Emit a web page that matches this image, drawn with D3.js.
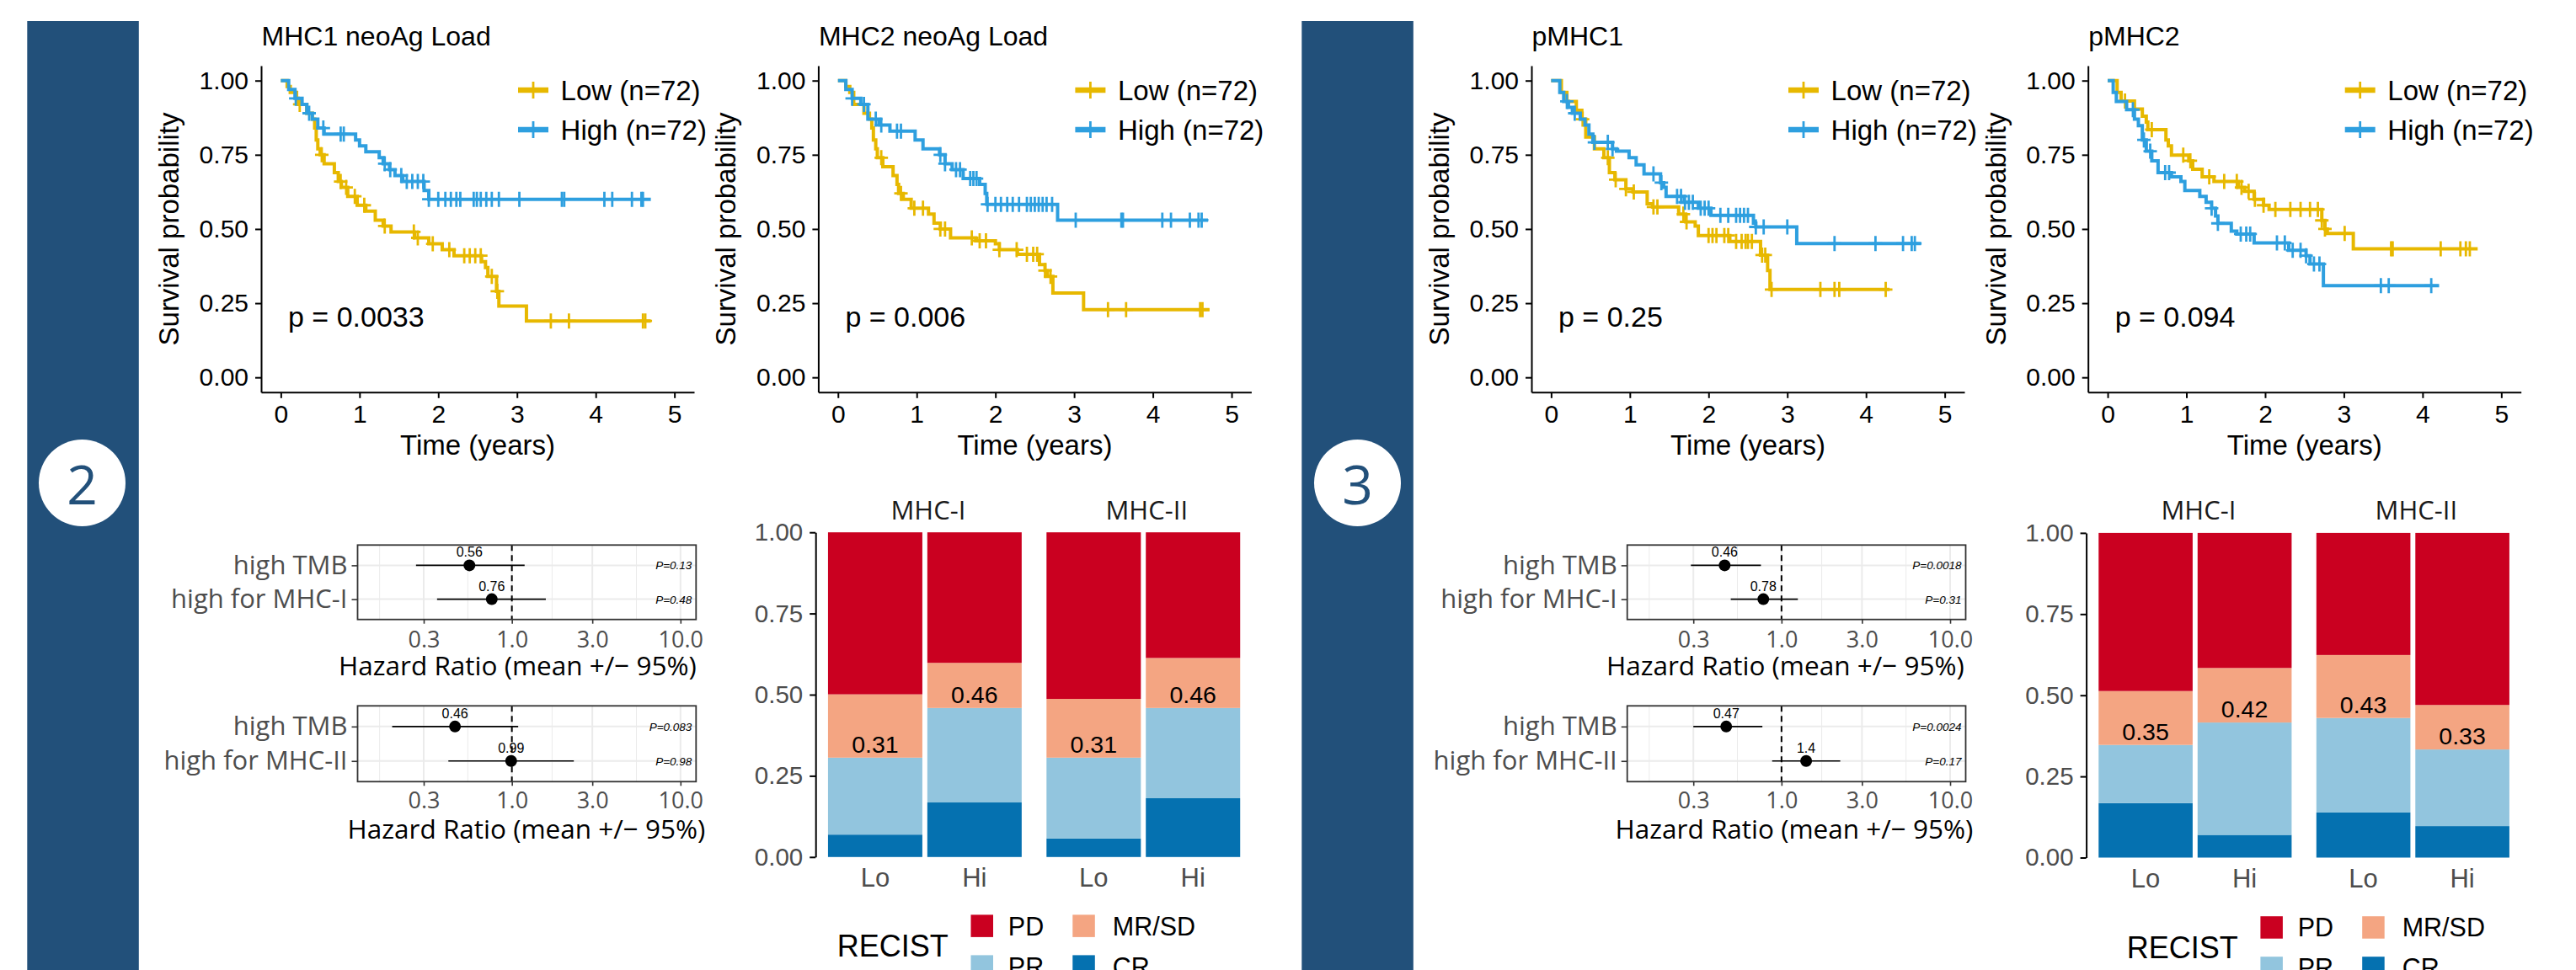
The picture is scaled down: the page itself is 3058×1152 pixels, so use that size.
<!DOCTYPE html>
<html><head><meta charset="utf-8">
<script src="https://cdn.jsdelivr.net/npm/d3@7"></script>
<style>body{margin:0;background:#fff} svg{display:block}</style>
</head><body><svg id="fig" width="3058" height="1152"></svg>
<script>
// ---------------- DATA ----------------
const survTicks = [0, 0.25, 0.5, 0.75, 1];
const timeTicks = [0, 1, 2, 3, 4, 5];
const kmTitles = ["MHC1 neoAg Load", "MHC2 neoAg Load", "pMHC1", "pMHC2"];
const kmPvalues = ["p = 0.0033", "p = 0.006", "p = 0.25", "p = 0.094"];
const kmGroups = ["Low (n=72)", "High (n=72)"];

// Kaplan-Meier steps [time, survival] (last entry = end of follow-up)
const km1Low = [[0,1],[0.08,0.98],[0.12,0.96],[0.2,0.94],[0.22,0.92],[0.33,0.89],[0.4,0.87],[0.43,0.84],[0.45,0.80],[0.47,0.77],[0.5,0.75],[0.55,0.72],[0.68,0.69],[0.73,0.66],[0.77,0.64],[0.85,0.61],[0.97,0.58],[1.08,0.56],[1.2,0.53],[1.3,0.51],[1.4,0.49],[1.7,0.47],[1.88,0.45],[2.05,0.43],[2.2,0.41],[2.55,0.39],[2.6,0.37],[2.63,0.34],[2.74,0.29],[2.77,0.24],[3.12,0.19],[4.7,0.19]];
const km1LowCens = [0.24,0.52,0.76,0.83,0.94,1.06,1.32,1.69,1.74,1.93,2.14,2.33,2.4,2.47,2.54,2.68,2.75,3.43,3.66,4.6,4.63];
const km1High = [[0,1],[0.1,0.97],[0.18,0.94],[0.27,0.92],[0.33,0.89],[0.4,0.87],[0.47,0.84],[0.55,0.82],[0.95,0.80],[1.0,0.78],[1.08,0.76],[1.25,0.74],[1.3,0.72],[1.38,0.70],[1.45,0.68],[1.55,0.66],[1.82,0.63],[1.88,0.60],[4.7,0.60]];
const km1HighCens = [0.19,0.36,0.54,0.76,0.8,1.32,1.39,1.53,1.6,1.67,1.74,1.81,1.88,2.0,2.09,2.16,2.23,2.28,2.45,2.49,2.54,2.61,2.68,2.77,3.03,3.57,3.6,4.11,4.21,4.46,4.58,4.6];

const km2Low = [[0,1],[0.1,0.98],[0.15,0.96],[0.2,0.92],[0.33,0.89],[0.4,0.87],[0.43,0.84],[0.45,0.80],[0.48,0.77],[0.5,0.74],[0.57,0.71],[0.7,0.68],[0.75,0.65],[0.77,0.62],[0.83,0.60],[0.93,0.57],[1.15,0.55],[1.22,0.52],[1.3,0.50],[1.43,0.47],[1.75,0.46],[2.0,0.45],[2.05,0.43],[2.28,0.415],[2.56,0.38],[2.63,0.36],[2.66,0.34],[2.73,0.284],[3.12,0.228],[4.72,0.228]];
const km2LowCens = [0.55,0.8,0.97,1.08,1.3,1.36,1.7,1.8,1.88,2.05,2.27,2.4,2.48,2.53,2.63,2.7,3.43,3.66,4.6,4.63];
const km2High = [[0,1],[0.1,0.97],[0.18,0.94],[0.29,0.92],[0.38,0.87],[0.52,0.85],[0.66,0.83],[0.98,0.80],[1.08,0.77],[1.29,0.75],[1.36,0.72],[1.45,0.70],[1.59,0.67],[1.8,0.65],[1.87,0.62],[1.89,0.583],[2.79,0.53],[4.7,0.53]];
const km2HighCens = [0.18,0.33,0.48,0.55,0.75,0.8,1.3,1.36,1.5,1.55,1.68,1.72,1.76,1.9,2.0,2.07,2.15,2.22,2.3,2.4,2.45,2.5,2.55,2.6,2.65,2.72,3.02,3.6,3.62,4.12,4.23,4.47,4.58,4.62];

const km3Low = [[0,1],[0.13,0.96],[0.2,0.93],[0.32,0.90],[0.39,0.87],[0.44,0.81],[0.55,0.77],[0.67,0.74],[0.74,0.69],[0.81,0.666],[0.95,0.635],[1.04,0.625],[1.22,0.585],[1.29,0.574],[1.62,0.55],[1.71,0.524],[1.83,0.51],[1.87,0.478],[2.27,0.458],[2.66,0.412],[2.75,0.36],[2.78,0.296],[4.3,0.296]];
const km3LowCens = [0.4,0.72,0.82,0.95,1.05,1.3,1.35,1.68,1.72,2.0,2.05,2.1,2.2,2.25,2.35,2.42,2.47,2.5,2.55,2.68,2.72,2.8,3.42,3.6,3.66,4.25];
const km3High = [[0,1],[0.11,0.96],[0.16,0.93],[0.22,0.91],[0.27,0.89],[0.37,0.87],[0.43,0.85],[0.48,0.82],[0.53,0.792],[0.78,0.77],[0.83,0.762],[0.99,0.74],[1.08,0.716],[1.18,0.686],[1.39,0.656],[1.43,0.64],[1.46,0.61],[1.69,0.59],[1.87,0.57],[2.03,0.546],[2.57,0.52],[2.6,0.507],[3.12,0.451],[4.7,0.451]];
const km3HighCens = [0.2,0.3,0.55,0.72,0.78,1.3,1.4,1.6,1.65,1.7,1.75,1.8,1.9,1.95,2.0,2.15,2.25,2.35,2.4,2.45,2.5,2.6,2.7,3.0,3.6,4.12,4.47,4.58,4.62];

const km4Low = [[0,1],[0.12,0.96],[0.17,0.931],[0.34,0.904],[0.44,0.88],[0.49,0.86],[0.51,0.835],[0.74,0.80],[0.77,0.78],[0.81,0.749],[1.03,0.73],[1.08,0.701],[1.2,0.676],[1.35,0.66],[1.66,0.64],[1.74,0.627],[1.86,0.60],[1.98,0.58],[2.05,0.566],[2.72,0.529],[2.76,0.50],[2.79,0.485],[3.12,0.433],[4.7,0.433]];
const km4LowCens = [0.22,0.56,0.96,1.05,1.29,1.48,1.64,1.7,1.79,1.87,1.98,2.13,2.32,2.45,2.57,2.67,2.72,2.76,3.01,3.6,3.62,4.23,4.48,4.55,4.6];
const km4High = [[0,1],[0.07,0.96],[0.11,0.93],[0.24,0.902],[0.34,0.87],[0.39,0.848],[0.44,0.80],[0.49,0.762],[0.56,0.73],[0.64,0.69],[0.81,0.676],[0.93,0.66],[0.98,0.63],[1.17,0.61],[1.25,0.59],[1.32,0.57],[1.37,0.544],[1.4,0.519],[1.57,0.493],[1.64,0.483],[1.86,0.453],[2.3,0.428],[2.52,0.41],[2.57,0.382],[2.74,0.309],[4.21,0.309]];
const km4HighCens = [0.32,0.46,0.54,0.73,0.78,1.32,1.4,1.69,1.76,1.81,2.15,2.25,2.35,2.45,2.52,2.62,2.69,3.47,3.57,4.11];

// Forest plots (hazard ratios)
const forestAxisTicks = [0.3, 1, 3, 10];
const forestLabelsI = ["high TMB", "high for MHC-I"];
const forestLabelsII = ["high TMB", "high for MHC-II"];
const forestNeoI_HR = [0.56, 0.76], forestNeoI_lo = [0.27, 0.36], forestNeoI_hi = [1.19, 1.59], forestNeoI_P = [0.13, 0.48];
const forestNeoII_HR = [0.46, 0.99], forestNeoII_lo = [0.195, 0.42], forestNeoII_hi = [1.09, 2.33], forestNeoII_P = [0.083, 0.98];
const forestPI_HR = [0.46, 0.78], forestPI_lo = [0.29, 0.50], forestPI_hi = [0.755, 1.25], forestPI_P = [0.0018, 0.31];
const forestPII_HR = [0.47, 1.4], forestPII_lo = [0.30, 0.88], forestPII_hi = [0.77, 2.23], forestPII_P = [0.0024, 0.17];

// RECIST stacked bars: order MHC-I Lo, MHC-I Hi, MHC-II Lo, MHC-II Hi
const barFacets = ["MHC-I", "MHC-II"];
const barGroups = ["Lo", "Hi"];
const recistCats = ["PD", "MR/SD", "PR", "CR"];
const barNeoCR = [0.069, 0.168, 0.057, 0.181];
const barNeoPR = [0.237, 0.291, 0.249, 0.278];
const barNeoMR = [0.195, 0.139, 0.181, 0.154];
const barNeoPD = [0.499, 0.402, 0.513, 0.387];
const barPepCR = [0.168, 0.070, 0.139, 0.097];
const barPepPR = [0.179, 0.346, 0.291, 0.236];
const barPepMR = [0.166, 0.168, 0.194, 0.137];
const barPepPD = [0.487, 0.416, 0.376, 0.530];

// ---------------- STYLE ----------------
const KMFONT = "'Liberation Sans', Arial, Helvetica, sans-serif";
const HUFONT = "'Open Sans', 'Noto Sans', sans-serif";
const kmColors = ["#E7B800", "#2E9FDF"];
const recistColors = {"PD": "#CA0020", "MR/SD": "#F4A582", "PR": "#92C5DE", "CR": "#0571B0"};
const bandColor = "#22507A";

const svg = d3.select("#fig");
svg.append("rect").attr("width", 3058).attr("height", 1152).attr("fill", "#fff");

// ---------------- SIDE BANDS ----------------
[[32.3, 97.5, "2"], [1545.3, 1611.5, "3"]].forEach(([bx, cx, lab]) => {
  svg.append("rect").attr("x", bx).attr("y", 25).attr("width", 132.5).attr("height", 1127).attr("fill", bandColor);
  svg.append("circle").attr("cx", cx).attr("cy", 573.5).attr("r", 51.5).attr("fill", "#fff");
  svg.append("text").attr("x", cx).attr("y", 574).attr("text-anchor", "middle").attr("dominant-baseline", "central")
    .attr("font-family", HUFONT).attr("font-size", 64).attr("font-weight", 500).attr("fill", bandColor).text(lab);
});

// ---------------- KM PANELS ----------------
function survAt(steps, t) {
  let s = steps[0][1];
  for (const p of steps) { if (p[0] <= t + 1e-9) s = p[1]; else break; }
  return s;
}
const kmData = [
  [km1Low, km1LowCens, km1High, km1HighCens],
  [km2Low, km2LowCens, km2High, km2HighCens],
  [km3Low, km3LowCens, km3High, km3HighCens],
  [km4Low, km4LowCens, km4High, km4HighCens]
];
const kmAxisX = [310, 971.4, 1818, 2478.7];

kmData.forEach((d, i) => {
  const X = kmAxisX[i];
  const x = d3.scaleLinear().domain([-0.25, 5.25]).range([X, X + 514]);
  const y = d3.scaleLinear().domain([-0.05, 1.05]).range([465.8, 78.1]);
  const g = svg.append("g");
  const line = d3.line().x(p => x(p[0])).y(p => y(p[1])).curve(d3.curveStepAfter);
  [[d[0], d[1], 0], [d[2], d[3], 1]].forEach(([steps, cens, k]) => {
    g.append("path").attr("d", line(steps)).attr("fill", "none").attr("stroke", kmColors[k]).attr("stroke-width", 4);
    g.append("g").selectAll("path").data(cens).join("path")
      .attr("d", c => { const cx = x(c), cy = y(survAt(steps, c)); return `M${cx},${cy - 9}V${cy + 9}M${cx - 8},${cy}H${cx + 8}`; })
      .attr("stroke", kmColors[k]).attr("stroke-width", 2.8).attr("fill", "none");
  });
  // axes
  const ay = g.append("g").attr("transform", `translate(${X},0)`)
    .call(d3.axisLeft(y).tickValues(survTicks).tickFormat(d3.format(".2f")).tickSize(7).tickSizeOuter(0).tickPadding(8));
  const ax = g.append("g").attr("transform", `translate(0,465.8)`)
    .call(d3.axisBottom(x).tickValues(timeTicks).tickFormat(d3.format("d")).tickSize(7).tickSizeOuter(0).tickPadding(8));
  [ay, ax].forEach(a => {
    a.attr("font-family", KMFONT).attr("font-size", 30);
    a.selectAll("path,line").attr("stroke", "#000").attr("stroke-width", 2);
    a.selectAll("text").attr("fill", "#000");
  });
  // titles
  g.append("text").attr("x", X + 0.5).attr("y", 53.6).attr("font-family", KMFONT).attr("font-size", 32).text(kmTitles[i]);
  g.append("text").attr("x", X + 257).attr("y", 540).attr("text-anchor", "middle").attr("font-family", KMFONT).attr("font-size", 33).text("Time (years)");
  g.append("text").attr("transform", `translate(${X - 98},272) rotate(-90)`).attr("text-anchor", "middle")
    .attr("font-family", KMFONT).attr("font-size", 33).text("Survival probability");
  g.append("text").attr("x", X + 32).attr("y", 388).attr("font-family", KMFONT).attr("font-size", 34).text(kmPvalues[i]);
  // legend
  kmGroups.forEach((lab, k) => {
    const ly = 107 + k * 47;
    g.append("line").attr("x1", X + 305).attr("x2", X + 341).attr("y1", ly).attr("y2", ly).attr("stroke", kmColors[k]).attr("stroke-width", 6.5);
    g.append("line").attr("x1", X + 323).attr("x2", X + 323).attr("y1", ly - 10).attr("y2", ly + 10).attr("stroke", kmColors[k]).attr("stroke-width", 2.8);
    g.append("text").attr("x", X + 355.6).attr("y", ly).attr("dominant-baseline", "central")
      .attr("font-family", KMFONT).attr("font-size", 33).text(lab);
  });
});

// ---------------- FOREST PLOTS ----------------
function drawForest(bx, by, bh, labels, hr, lo, hi, pv, titleCx, tickBase, titleBase) {
  const bw = 401.8;
  const x = d3.scaleLog().domain([0.1216, 12.37]).range([bx, bx + bw]);
  const y = d3.scalePoint().domain(labels).range([by, by + bh]).padding(0.6);
  const g = svg.append("g");
  const lx = d3.scaleLinear().domain([Math.log10(0.1216), Math.log10(12.37)]).range([bx, bx + bw]);
  // minor grid (log midpoints)
  const L = forestAxisTicks.map(Math.log10);
  const minors = [L[0] - (L[1] - L[0]) / 2].concat(L.slice(0, -1).map((v, j) => (v + L[j + 1]) / 2));
  g.selectAll(".mn").data(minors).join("line").attr("x1", v => lx(v)).attr("x2", v => lx(v))
    .attr("y1", by).attr("y2", by + bh).attr("stroke", "#EBEBEB").attr("stroke-width", 1);
  g.selectAll(".mj").data(forestAxisTicks).join("line").attr("x1", v => x(v)).attr("x2", v => x(v))
    .attr("y1", by).attr("y2", by + bh).attr("stroke", "#EBEBEB").attr("stroke-width", 2);
  g.selectAll(".hz").data(labels).join("line").attr("x1", bx).attr("x2", bx + bw)
    .attr("y1", l => y(l)).attr("y2", l => y(l)).attr("stroke", "#EBEBEB").attr("stroke-width", 2);
  // reference line
  g.append("line").attr("x1", x(1)).attr("x2", x(1)).attr("y1", by).attr("y2", by + bh)
    .attr("stroke", "#000").attr("stroke-width", 2).attr("stroke-dasharray", "7,5");
  // CIs and points
  labels.forEach((l, j) => {
    g.append("line").attr("x1", x(lo[j])).attr("x2", x(hi[j])).attr("y1", y(l)).attr("y2", y(l)).attr("stroke", "#000").attr("stroke-width", 1.6);
    g.append("circle").attr("cx", x(hr[j])).attr("cy", y(l)).attr("r", 7).attr("fill", "#000");
    g.append("text").attr("x", x(hr[j])).attr("y", y(l) - 10).attr("text-anchor", "middle")
      .attr("font-family", KMFONT).attr("font-size", 16).text(d3.format(".2")(hr[j]));
    g.append("text").attr("x", bx + bw - 5).attr("y", y(l) + 5).attr("text-anchor", "end")
      .attr("font-family", KMFONT).attr("font-size", 13.5).attr("font-style", "italic").text("P=" + pv[j]);
  });
  // box
  g.append("rect").attr("x", bx).attr("y", by).attr("width", bw).attr("height", bh)
    .attr("fill", "none").attr("stroke", "#333").attr("stroke-width", 1.8);
  // axes
  const ay = g.append("g").attr("transform", `translate(${bx},0)`).call(d3.axisLeft(y).tickSize(7).tickPadding(5).tickSizeOuter(0));
  ay.select(".domain").remove();
  ay.attr("font-family", HUFONT).attr("font-size", 31);
  ay.selectAll("line").attr("stroke", "#333").attr("stroke-width", 1.6);
  ay.selectAll("text").attr("fill", "#4D4D4D");
  const ax = g.append("g").attr("transform", `translate(0,${by + bh})`)
    .call(d3.axisBottom(x).tickValues(forestAxisTicks).tickFormat(d3.format(".1f")).tickSize(5).tickSizeOuter(0).tickPadding(5));
  ax.select(".domain").remove();
  ax.attr("font-family", HUFONT).attr("font-size", 27);
  ax.selectAll("line").attr("stroke", "#333").attr("stroke-width", 1.6);
  ax.selectAll("text").attr("fill", "#4D4D4D").attr("dy", null).attr("y", tickBase - by - bh);
  g.append("text").attr("x", titleCx).attr("y", titleBase).attr("text-anchor", "middle")
    .attr("font-family", HUFONT).attr("font-size", 31.5).text("Hazard Ratio (mean +/\u2212 95%)");
}
drawForest(424.5, 647.3, 88.4, forestLabelsI, forestNeoI_HR, forestNeoI_lo, forestNeoI_hi, forestNeoI_P, 614.5, 769, 802);
drawForest(424.5, 838.3, 90, forestLabelsII, forestNeoII_HR, forestNeoII_lo, forestNeoII_hi, forestNeoII_P, 625, 960.5, 995.5);
drawForest(1931.7, 647.3, 88.4, forestLabelsI, forestPI_HR, forestPI_lo, forestPI_hi, forestPI_P, 2119.4, 769, 802);
drawForest(1931.7, 838.3, 90, forestLabelsII, forestPII_HR, forestPII_lo, forestPII_hi, forestPII_P, 2130, 960.5, 995.5);

// ---------------- STACKED BARS ----------------
function drawBars(axX, yTop, yBot, step, cr, pr, mr, pd, legX, legBase, keyTop) {
  const y = d3.scaleLinear().domain([0, 1]).range([yBot, yTop]);
  const panelW = step * 2.2;
  const g = svg.append("g");
  barFacets.forEach((f, fi) => {
    const px = axX + fi * panelW;
    const x = d3.scalePoint().domain(barGroups).range([px, px + panelW]).padding(0.6);
    const bw = step * 0.95;
    barGroups.forEach((grp, gi) => {
      const idx = fi * 2 + gi;
      const segs = [["CR", cr[idx]], ["PR", pr[idx]], ["MR/SD", mr[idx]], ["PD", pd[idx]]];
      let cum = 0;
      segs.forEach(([c, v]) => {
        g.append("rect").attr("x", x(grp) - bw / 2).attr("width", bw)
          .attr("y", y(Math.min(1, cum + v))).attr("height", y(cum) - y(Math.min(1, cum + v))).attr("fill", recistColors[c]);
        cum += v;
      });
      const resp = cr[idx] + pr[idx];
      g.append("text").attr("x", x(grp)).attr("y", y(resp) - 6).attr("text-anchor", "middle")
        .attr("font-family", KMFONT).attr("font-size", 28.5).text(d3.format(".2f")(resp));
      g.append("text").attr("x", x(grp)).attr("y", yBot + 35.4).attr("text-anchor", "middle")
        .attr("font-family", KMFONT).attr("font-size", 31).attr("fill", "#4D4D4D").text(grp);
    });
    g.append("text").attr("x", px + panelW / 2 + 4).attr("y", yTop - 15.7).attr("text-anchor", "middle")
      .attr("font-family", HUFONT).attr("font-size", 31).attr("fill", "#1A1A1A").text(f);
  });
  const ay = g.append("g").attr("transform", `translate(${axX},0)`)
    .call(d3.axisLeft(y).tickValues(survTicks).tickFormat(d3.format(".2f")).tickSize(7).tickSizeOuter(0).tickPadding(8));
  ay.attr("font-family", KMFONT).attr("font-size", 29.5);
  ay.selectAll("path,line").attr("stroke", "#000").attr("stroke-width", 2);
  ay.selectAll("text").attr("fill", "#4D4D4D");
  // legend
  g.append("text").attr("x", legX).attr("y", legBase).attr("font-family", KMFONT).attr("font-size", 36).text("RECIST");
  recistCats.forEach((c, ci) => {
    const col = ci % 2, row = Math.floor(ci / 2);
    const kx = legX + 158.7 + col * 120.8, ky = keyTop + row * 48;
    g.append("rect").attr("x", kx).attr("y", ky).attr("width", 26.5).attr("height", 26.5).attr("fill", recistColors[c]);
    g.append("text").attr("x", legX + 203 + col * 124).attr("y", ky + 13.2).attr("dominant-baseline", "central")
      .attr("font-family", KMFONT).attr("font-size", 30.5).text(c);
  });
}
drawBars(968.2, 632.2, 1017.8, 117.9, barNeoCR, barNeoPR, barNeoMR, barNeoPD, 993.8, 1136.4, 1086.4);
drawBars(2476.6, 632.9, 1018.5, 117.5, barPepCR, barPepPR, barPepMR, barPepPD, 2524.7, 1138, 1088.2);
</script></body></html>
